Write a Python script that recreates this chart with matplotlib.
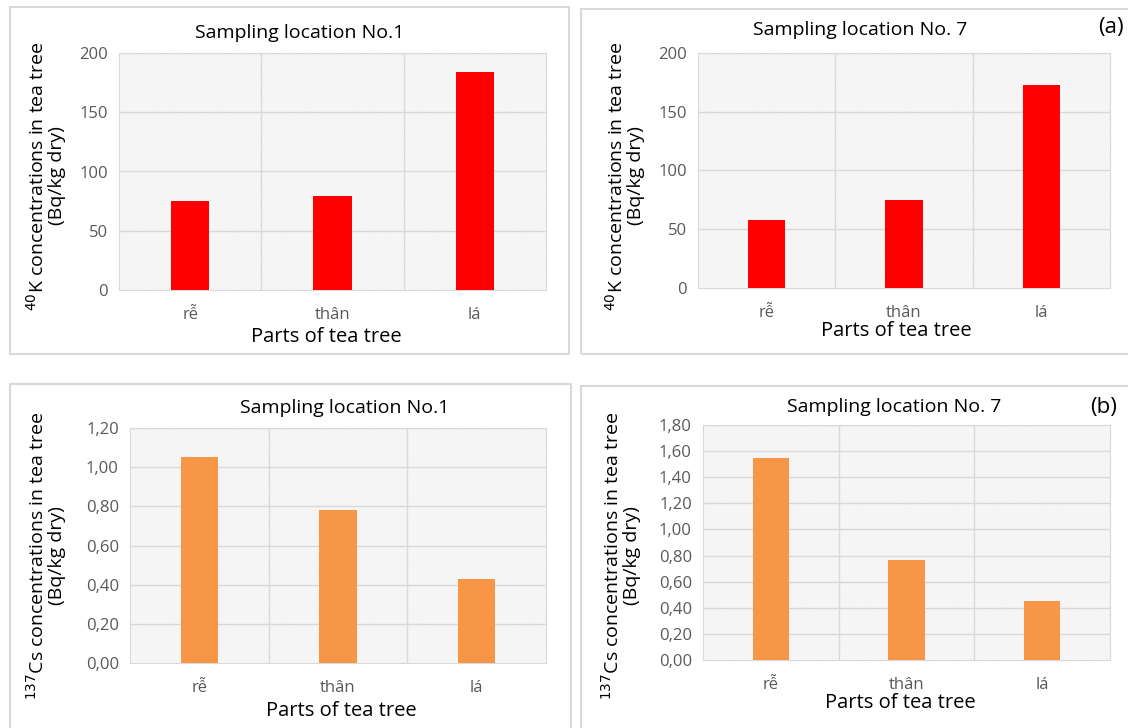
import matplotlib.pyplot as plt
from matplotlib.patches import Rectangle

plt.rcParams['font.family'] = ['Open Sans', 'DejaVu Sans']
plt.rcParams['hatch.linewidth'] = 0.6

# data
parts = ['rễ', 'thân', 'lá']
k40_loc1 = [75, 79, 184]
k40_loc7 = [58, 75, 172.5]
cs137_loc1 = [1.05, 0.78, 0.43]
cs137_loc7 = [1.55, 0.765, 0.455]

k40_ticks = [0, 50, 100, 150, 200]
k40_ticklabels = ['0', '50', '100', '150', '200']
cs1_ticks = [0, 0.2, 0.4, 0.6, 0.8, 1.0, 1.2]
cs1_ticklabels = ['0,00', '0,20', '0,40', '0,60', '0,80', '1,00', '1,20']
cs7_ticks = [0, 0.2, 0.4, 0.6, 0.8, 1.0, 1.2, 1.4, 1.6, 1.8]
cs7_ticklabels = ['0,00', '0,20', '0,40', '0,60', '0,80', '1,00', '1,20', '1,40', '1,60', '1,80']

W, H = 1128, 728
fig = plt.figure(figsize=(W / 100, H / 100), dpi=100)


def px_axes(left, right, top, bottom):
    return fig.add_axes([left / W, 1 - bottom / H, (right - left) / W, (bottom - top) / H])


def fig_text(x, y, s, **kw):
    fig.text(x / W, 1 - y / H, s, **kw)


def panel_box(left, right, top, bottom):
    fig.patches.append(Rectangle((left / W, 1 - bottom / H), (right - left) / W, (bottom - top) / H,
                                 transform=fig.transFigure, fill=False, edgecolor='#d9d9d9',
                                 linewidth=1.5, zorder=0))


def bar_panel(ax, values, color, ticks, ticklabels, ymax):
    bg = Rectangle((0, 0), 1, 1, transform=ax.transAxes, facecolor='white',
                   edgecolor='#ececec', hatch='\\' * 14, linewidth=0, zorder=0)
    ax.add_patch(bg)
    x = range(len(parts))
    ax.bar(x, values, width=0.27, color=color, zorder=3)
    ax.set_xlim(-0.5, len(parts) - 0.5)
    ax.set_ylim(0, ymax)
    ax.set_yticks(ticks)
    ax.set_yticklabels(ticklabels)
    ax.set_xticks(list(x))
    ax.set_xticklabels(parts)
    for t in ticks[1:]:
        ax.axhline(t, color='#d9d9d9', lw=1, zorder=1)
    for b in [0.5, 1.5]:
        ax.axvline(b, color='#d9d9d9', lw=1, zorder=1)
    for sp in ax.spines.values():
        sp.set_color('#d9d9d9')
    ax.tick_params(length=0, colors='#595959', labelsize=12, pad=8)
    ax.tick_params(axis='x', pad=12)


# panel frames
panel_box(10, 569, 7, 354)
panel_box(581, 1135, 9, 354)
panel_box(10, 571, 384, 740)
panel_box(581, 1135, 386, 740)

ax1 = px_axes(119, 546, 53, 290)
bar_panel(ax1, k40_loc1, '#ff0000', k40_ticks, k40_ticklabels, 200)
ax2 = px_axes(698, 1110, 53, 288)
bar_panel(ax2, k40_loc7, '#ff0000', k40_ticks, k40_ticklabels, 200)
ax3 = px_axes(130, 546, 428, 663)
bar_panel(ax3, cs137_loc1, '#f79646', cs1_ticks, cs1_ticklabels, 1.2)
ax4 = px_axes(703, 1110, 425, 660)
bar_panel(ax4, cs137_loc7, '#f79646', cs7_ticks, cs7_ticklabels, 1.8)

tkw = dict(ha='center', va='center', fontsize=14, color='black')
fig_text(300, 33, 'Sampling location No.1', **tkw)
fig_text(860, 30, 'Sampling location No. 7', **tkw)
fig_text(345, 408, 'Sampling location No.1', **tkw)
fig_text(894, 407, 'Sampling location No. 7', **tkw)
fig_text(1111, 27, '(a)', ha='center', va='center', fontsize=16, color='black')
fig_text(1104, 407, '(b)', ha='center', va='center', fontsize=16, color='black')

xkw = dict(ha='center', va='center', fontsize=14.5, color='black')
fig_text(326, 337, 'Parts of tea tree', **xkw)
fig_text(896, 331, 'Parts of tea tree', **xkw)
fig_text(341, 711, 'Parts of tea tree', **xkw)
fig_text(900, 703, 'Parts of tea tree', **xkw)

ykw = dict(ha='center', va='center', rotation=90, fontsize=14, color='black',
           multialignment='center', linespacing=1.0)
fig_text(46, 176, '$^{40}$K concentrations in tea tree\n(Bq/kg dry)', **ykw)
fig_text(625, 176, '$^{40}$K concentrations in tea tree\n(Bq/kg dry)', **ykw)
fig_text(46, 556, '$^{137}$Cs concentrations in tea tree\n(Bq/kg dry)', **ykw)
fig_text(621, 556, '$^{137}$Cs concentrations in tea tree\n(Bq/kg dry)', **ykw)

fig.savefig('out.png', dpi=100, facecolor='white')
